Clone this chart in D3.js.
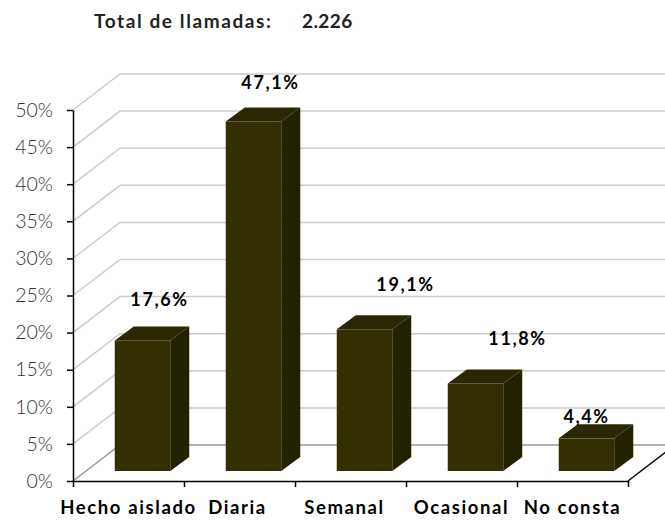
<!DOCTYPE html>
<html>
<head>
<meta charset="utf-8">
<script src="https://cdn.jsdelivr.net/npm/d3@7"></script>
<style>
  html, body { margin: 0; padding: 0; background: #fff; }
  svg { display: block; }
  text { font-family: Lato, "Open Sans", sans-serif; }
</style>
</head>
<body>
<div id="chart"></div>
<script>
var categories = ["Hecho aislado", "Diaria", "Semanal", "Ocasional", "No consta"];
var values = [17.6, 47.1, 19.1, 11.8, 4.4];
var valueLabels = ["17,6%", "47,1%", "19,1%", "11,8%", "4,4%"];
var tickValues = [0, 5, 10, 15, 20, 25, 30, 35, 40, 45, 50];
var totalLabel = "Total de llamadas:";
var totalValue = "2.226";

var width = 665, height = 521;
var wallX = 47, wallY = -36;     // depth of the 3d box
var barX = 19, barY = -14;       // depth of one bar
var baseX = 14, baseY = -10;     // bar base sits inside the floor

var svg = d3.select("#chart").append("svg")
    .attr("width", width)
    .attr("height", height)
    .attr("viewBox", "0 0 " + width + " " + height);

var x = d3.scaleBand()
    .domain(categories)
    .range([73, 628])
    .paddingInner(0.5)
    .paddingOuter(0.25);

var y = d3.scaleLinear()
    .domain([0, 50])
    .range([481, 110]);

// back wall and left wall gridlines
svg.selectAll(".grid")
    .data(tickValues)
    .enter().append("path")
    .attr("class", "grid")
    .attr("fill", "none")
    .attr("stroke", function(d){ return d === 0 ? "#999" : "#ccc"; })
    .attr("stroke-width", 1.5)
    .attr("d", function(d){
        return "M" + x.range()[0] + "," + y(d)
            + "L" + (x.range()[0] + wallX) + "," + (y(d) + wallY)
            + "L" + width + "," + (y(d) + wallY);
    });

// right edge of the floor
svg.append("line")
    .attr("x1", x.range()[1]).attr("y1", y(0))
    .attr("x2", x.range()[1] + wallX).attr("y2", y(0) + wallY)
    .attr("stroke", "#000").attr("stroke-width", 1.5);

var bars = svg.selectAll(".bar")
    .data(values)
    .enter().append("g")
    .attr("class", "bar")
    .attr("transform", function(d, i){
        return "translate(" + (x(categories[i]) + baseX) + "," + baseY + ")";
    });

var bw = x.bandwidth();

bars.append("path")   // side
    .attr("fill", "#222200")
    .attr("d", function(d){
        return "M" + bw + "," + y(d)
            + "L" + (bw + barX) + "," + (y(d) + barY)
            + "L" + (bw + barX) + "," + (y(0) + barY)
            + "L" + bw + "," + y(0) + "Z";
    });

bars.append("path")   // top
    .attr("fill", "#2a2800")
    .attr("d", function(d){
        return "M0," + y(d)
            + "L" + barX + "," + (y(d) + barY)
            + "L" + (bw + barX) + "," + (y(d) + barY)
            + "L" + bw + "," + y(d) + "Z";
    });

bars.append("rect")   // front
    .attr("fill", "#332f00")
    .attr("width", bw)
    .attr("y", function(d){ return y(d); })
    .attr("height", function(d){ return y(0) - y(d); });

// axes
var yAxis = d3.axisLeft(y)
    .tickValues(tickValues)
    .tickFormat(function(d){ return d + "%"; })
    .tickSize(6)
    .tickSizeOuter(0)
    .tickPadding(14);

var gy = svg.append("g")
    .attr("transform", "translate(" + x.range()[0] + ",0)")
    .call(yAxis);
gy.selectAll("text")
    .attr("font-size", 19.5)
    .attr("font-weight", 300)
    .attr("fill", "#333")
    .style("font-family", "Lato, sans-serif");
gy.selectAll("path,line").attr("stroke", "#000").attr("stroke-width", 1.5);

var xEdge = d3.scaleLinear().domain([0, categories.length]).range(x.range());
var xAxis = d3.axisBottom(xEdge)
    .tickValues(d3.range(categories.length + 1))
    .tickFormat("")
    .tickSize(6)
    .tickSizeOuter(0);

var gx = svg.append("g")
    .attr("transform", "translate(0," + y(0) + ")")
    .call(xAxis);
gx.selectAll("path,line").attr("stroke", "#000").attr("stroke-width", 1.5);

// category labels
var catNudge = [0, -2, -6, 0, 0];
svg.selectAll(".cat")
    .data(categories)
    .enter().append("text")
    .attr("class", "cat")
    .attr("x", function(d, i){ return x(d) + bw / 2 + catNudge[i]; })
    .attr("y", 514)
    .attr("text-anchor", "middle")
    .attr("font-size", 18.5)
    .attr("font-weight", 700)
    .attr("letter-spacing", 1.6)
    .attr("fill", "#000")
    .text(function(d){ return d; });

// value labels, placed by hand in the original
var labelNudge = [[17, -40], [17, -39], [41, -44], [42, -44], [0, -21]];
svg.selectAll(".val")
    .data(values)
    .enter().append("text")
    .attr("class", "val")
    .attr("x", function(d, i){ return x(categories[i]) + baseX + bw / 2 + labelNudge[i][0]; })
    .attr("y", function(d, i){ return y(d) + baseY + labelNudge[i][1] + 6; })
    .attr("text-anchor", "middle")
    .attr("font-size", 18)
    .attr("font-weight", 700)
    .attr("letter-spacing", 1.6)
    .attr("fill", "#000")
    .text(function(d, i){ return valueLabels[i]; });

// header
svg.append("text")
    .attr("x", 94).attr("y", 28)
    .attr("font-size", 19).attr("font-weight", 700).attr("letter-spacing", 1.6)
    .attr("fill", "#222")
    .text(totalLabel);
svg.append("text")
    .attr("x", 302).attr("y", 28)
    .attr("font-size", 19).attr("font-weight", 700).attr("letter-spacing", 0.4)
    .attr("fill", "#222")
    .text(totalValue);
</script>
</body>
</html>
